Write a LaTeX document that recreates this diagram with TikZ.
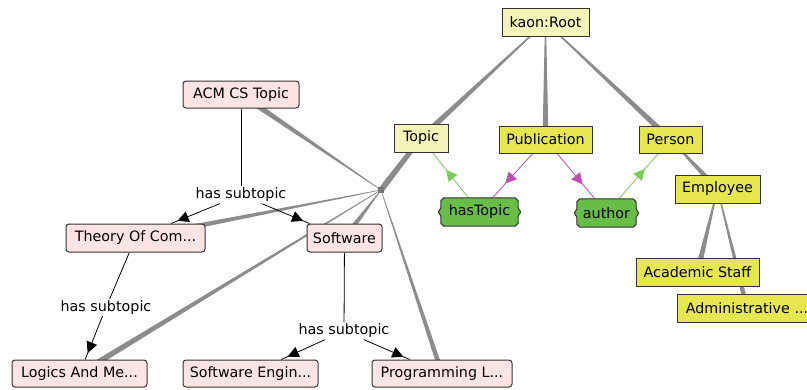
\documentclass[tikz,border=0pt]{standalone}
\usepackage{fontspec}
\setmainfont{DejaVu Sans}
\usetikzlibrary{calc,decorations.markings,arrows.meta}

\definecolor{paleyellow}{HTML}{F4F4B8}
\definecolor{brightyellow}{HTML}{E6E64E}
\definecolor{relgreen}{HTML}{68BC48}
\definecolor{pinkfill}{HTML}{FCE4E4}
\definecolor{bordc}{HTML}{333333}
\definecolor{edgegray}{HTML}{8C8C8C}
\definecolor{arrowpink}{HTML}{C04CB0}
\definecolor{arrowgreen}{HTML}{78CC58}

\pgfdeclarelayer{edges}
\pgfdeclarelayer{plates}
\pgfsetlayers{edges,plates,main}

% tapered grey edge: from node #1 (half width #3) to node #2 (half width #4)
\newcommand\taperedge[4]{%
  \fill[edgegray] ($(#1)!#3!90:(#2)$) -- ($(#1)!#3!-90:(#2)$)
    -- ($(#2)!#4!90:(#1)$) -- ($(#2)!#4!-90:(#1)$) -- cycle;}

% notched outline of a relation node
\newcommand\relplate[1]{%
  \filldraw[fill=relgreen, draw=bordc, line width=1pt, line join=miter]
    ($(#1.north west)+(4,0)$) -- ($(#1.north east)+(-4,0)$)
    -- ($(#1.north east)+(-1,3)$) -- ($(#1.east)+(-1,-4)$)
    -- ($(#1.east)+(1.5,0)$) -- ($(#1.east)+(-1,4)$)
    -- ($(#1.south east)+(-1,-3)$) -- ($(#1.south east)+(-4,0)$)
    -- ($(#1.south west)+(4,0)$) -- ($(#1.south west)+(1,-3)$)
    -- ($(#1.west)+(1,4)$) -- ($(#1.west)+(-1.5,0)$)
    -- ($(#1.west)+(1,-4)$) -- ($(#1.north west)+(1,3)$) -- cycle;}

\begin{document}
\begin{tikzpicture}[x=1pt, y=-1pt,
  font=\fontsize{14.3}{17}\selectfont,
  sz/.style 2 args={minimum width=#1pt, minimum height=#2pt},
  boxbase/.style={draw=bordc, line width=1pt, inner sep=0pt, text=black},
  pale/.style={boxbase, fill=paleyellow},
  yel/.style={boxbase, fill=brightyellow},
  topicbox/.style={boxbase, fill=pinkfill, rounded corners=3pt},
  relbox/.style={inner sep=0pt, text=black},
  lbl/.style={inner sep=1.5pt, text=black},
  hubsq/.style={fill=edgegray!85!black, inner sep=0pt, minimum size=6pt},
  subarrow/.style={draw=black, line width=0.8pt, postaction={decorate},
    decoration={markings, mark=at position -7pt with
      {\arrow{Triangle[length=11pt,width=11pt]}}}},
  plain/.style={draw=black, line width=0.8pt},
  relarrow/.style 2 args={draw=#1, line width=0.8pt, postaction={decorate},
    decoration={markings, mark=at position #2 with
      {\arrow[#1]{Triangle[length=11pt,width=11pt]}}}}
]
\useasboundingbox (0,0) rectangle (807,389);

% ontology classes
\node[pale, sz={87}{28}] (root) at (545.5,22) {kaon:Root};
\node[pale, sz={54}{28}] (topic) at (421,138) {Topic};
\node[yel, sz={93}{27}] (pub) at (545.5,139.5) {Publication};
\node[yel, sz={63}{27}] (person) at (670.5,139.5) {Person};
\node[yel, sz={85}{28}] (emp) at (717.5,189) {Employee};
\node[yel, sz={140}{28}] (admin) at (747,308) {Administrative ...};
\node[yel, sz={123}{28}] (acad) at (697.5,272) {Academic Staff};

% relations
\node[relbox, sz={79}{28}] (hastopic) at (479.5,212) {hasTopic};
\node[relbox, sz={61}{28}] (author) at (606.5,213) {author};

% topic instances
\node[topicbox, sz={116}{27}] (acm) at (241,94.5) {ACM CS Topic};
\node[topicbox, sz={139}{28}] (theory) at (135.5,238) {Theory Of Com...};
\node[topicbox, sz={75}{28}] (soft) at (344.5,238) {Software};
\node[topicbox, sz={135}{27}] (logics) at (79.5,373.5) {Logics And Me...};
\node[topicbox, sz={135}{27}] (sweng) at (250.5,373.5) {Software Engin...};
\node[topicbox, sz={140}{27}] (prog) at (442,373.5) {Programming L...};

% property labels
\node[lbl] (sub1) at (241,195) {has subtopic};
\node[lbl] (sub2) at (106,307.5) {has subtopic};
\node[lbl] (sub3) at (344,331) {has subtopic};

% instance-of hub
\node[hubsq] (hub) at (381,190) {};

\begin{pgfonlayer}{plates}
  \relplate{hastopic}
  \relplate{author}
\end{pgfonlayer}

\begin{pgfonlayer}{edges}
  % subclass edges
  \taperedge{root}{topic}{0.5pt}{3pt}
  \taperedge{root}{pub}{0.5pt}{3pt}
  \taperedge{root}{person}{0.5pt}{3pt}
  \taperedge{person}{emp}{0.5pt}{3pt}
  \taperedge{emp}{acad}{0.5pt}{3pt}
  \taperedge{emp}{admin}{0.5pt}{2.5pt}
  % instance-of edges
  \taperedge{topic}{hub}{2.3pt}{3pt}
  \taperedge{hub}{acm}{0.3pt}{3pt}
  \taperedge{hub}{theory}{0.3pt}{3pt}
  \taperedge{hub}{soft}{0.3pt}{3pt}
  \taperedge{hub}{logics}{0.3pt}{3pt}
  \taperedge{hub}{prog}{0.3pt}{2.5pt}

  % domain / range of the relations
  \draw[relarrow={arrowgreen}{0.62}] (hastopic) -- (topic);
  \draw[relarrow={arrowpink}{0.68}] (pub) -- (hastopic);
  \draw[relarrow={arrowpink}{0.68}] (pub) -- (author);
  \draw[relarrow={arrowgreen}{0.66}] (author) -- (person);

  % has subtopic property instances
  \draw[plain] (acm) -- (sub1);
  \draw[subarrow] (sub1) -- (theory);
  \draw[subarrow] (sub1) -- (soft);
  \draw[plain] (theory) -- (sub2);
  \draw[subarrow] (sub2) -- (logics);
  \draw[plain] (soft) -- (sub3);
  \draw[subarrow] (sub3) -- (sweng);
  \draw[subarrow] (sub3) -- (prog);
\end{pgfonlayer}
\end{tikzpicture}
\end{document}
